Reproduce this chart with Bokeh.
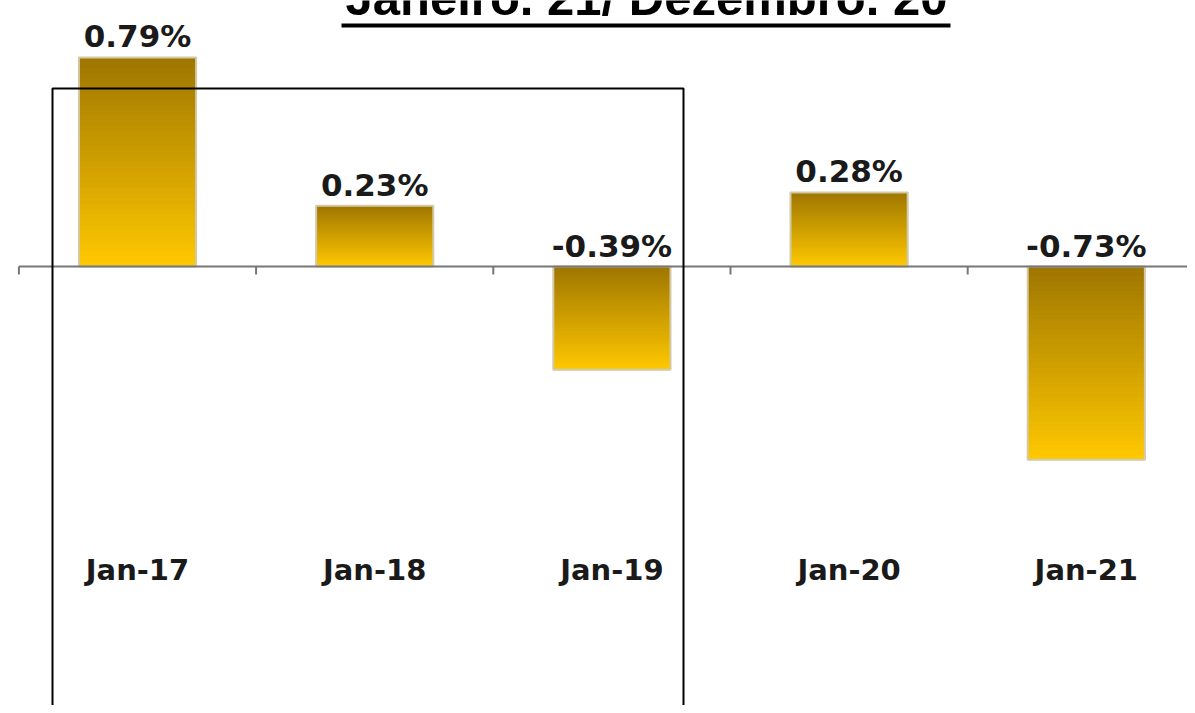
from bokeh.plotting import figure
from bokeh.models import Range1d, ColumnDataSource
from bokeh.core.properties import value
from bokeh.embed import file_html
from bokeh.resources import INLINE

# ---- data ----
categories = ["Jan-17", "Jan-18", "Jan-19", "Jan-20", "Jan-21"]
values = [0.79, 0.23, -0.39, 0.28, -0.73]
value_labels = ["0.79%", "0.23%", "-0.39%", "0.28%", "-0.73%"]
title_text = "Janeiro. 21/ Dezembro. 20"

W, H = 1187, 705
# layout: first category centre at px 137, 237.2 px per category; zero line at px 266, 264.6 px per 1%
X0PX, XSTEP, Y0PX, YSTEP = 137.0, 237.2, 266.0, 264.6
p = figure(width=W, height=H, output_backend="svg", toolbar_location=None, min_border=0,
           x_range=Range1d(-X0PX / XSTEP, (W - X0PX) / XSTEP),
           y_range=Range1d((Y0PX - H) / YSTEP, Y0PX / YSTEP))
p.xaxis.visible = False
p.yaxis.visible = False
p.grid.visible = False
p.outline_line_color = None
p.background_fill_color = "white"

xs = list(range(len(categories)))
bar_w = 0.494

# gradient bars: painted top-to-bottom, each slice reaching to the bar's bottom (no seams)
top_c = (0x9E, 0x76, 0x00)
bot_c = (0xFF, 0xC8, 0x00)
N = 40
L, R, T, B, C = [], [], [], [], []
for x, v in zip(xs, values):
    hi, lo = max(v, 0), min(v, 0)
    for k in range(N):
        t0 = hi - (hi - lo) * k / N
        f = (k + 0.5) / N
        col = "#%02x%02x%02x" % tuple(int(round(a + (b - a) * f)) for a, b in zip(top_c, bot_c))
        L.append(x - bar_w / 2); R.append(x + bar_w / 2); T.append(t0); B.append(lo); C.append(col)
p.quad(left=L, right=R, top=T, bottom=B, fill_color=C, line_color=None)

src = ColumnDataSource(dict(x=xs, top=values, cat=categories, lab=value_labels,
                            ly=[max(v, 0) for v in values]))
p.vbar(x="x", top="top", bottom=0, width=bar_w, source=src, fill_color=None,
       line_color="#d2c9a6", line_width=2)

# axis line at zero with ticks
p.segment(x0=[-0.5], y0=[0], x1=[p.x_range.end], y1=[0], line_color="#777777", line_width=2)
tick_x = [i - 0.5 for i in range(len(categories))]
p.segment(x0=tick_x, y0=[0] * len(tick_x), x1=tick_x, y1=[-8 / YSTEP] * len(tick_x),
          line_color="#777777", line_width=2)

# value labels
p.text(x="x", y="ly", text="lab", source=src, text_align="center", text_baseline="bottom",
       y_offset=-3, text_font=value("DejaVu Sans"), text_font_style="bold",
       text_font_size="31px", text_color="#1a1a1a")

# category labels
p.text(x="x", y=(Y0PX - 569) / YSTEP, text="cat", source=src, text_align="center",
       text_baseline="middle", text_font=value("DejaVu Sans"), text_font_style="bold",
       text_font_size="29px", text_color="#1a1a1a")

# highlight box (open at the bottom)
bx0, bx1, by = (52 - X0PX) / XSTEP, (683 - X0PX) / XSTEP, (Y0PX - 88) / YSTEP
yb = (Y0PX - H - 20) / YSTEP
p.line(x=[bx0, bx0, bx1, bx1], y=[yb, by, by, yb], line_color="black", line_width=2)

# title (cut at the top, as in the original) with underline
p.text(x=[(646 - X0PX) / XSTEP], y=[(Y0PX - 24) / YSTEP], text=[title_text],
       text_align="center", text_baseline="bottom",
       text_font=value("Liberation Sans"), text_font_style="bold", text_font_size="49px",
       text_color="black")
p.segment(x0=[(341 - X0PX) / XSTEP], y0=[(Y0PX - 25) / YSTEP], x1=[(950 - X0PX) / XSTEP],
          y1=[(Y0PX - 25) / YSTEP], line_color="black", line_width=4)

open("out.html", "w").write(file_html(p, INLINE))
